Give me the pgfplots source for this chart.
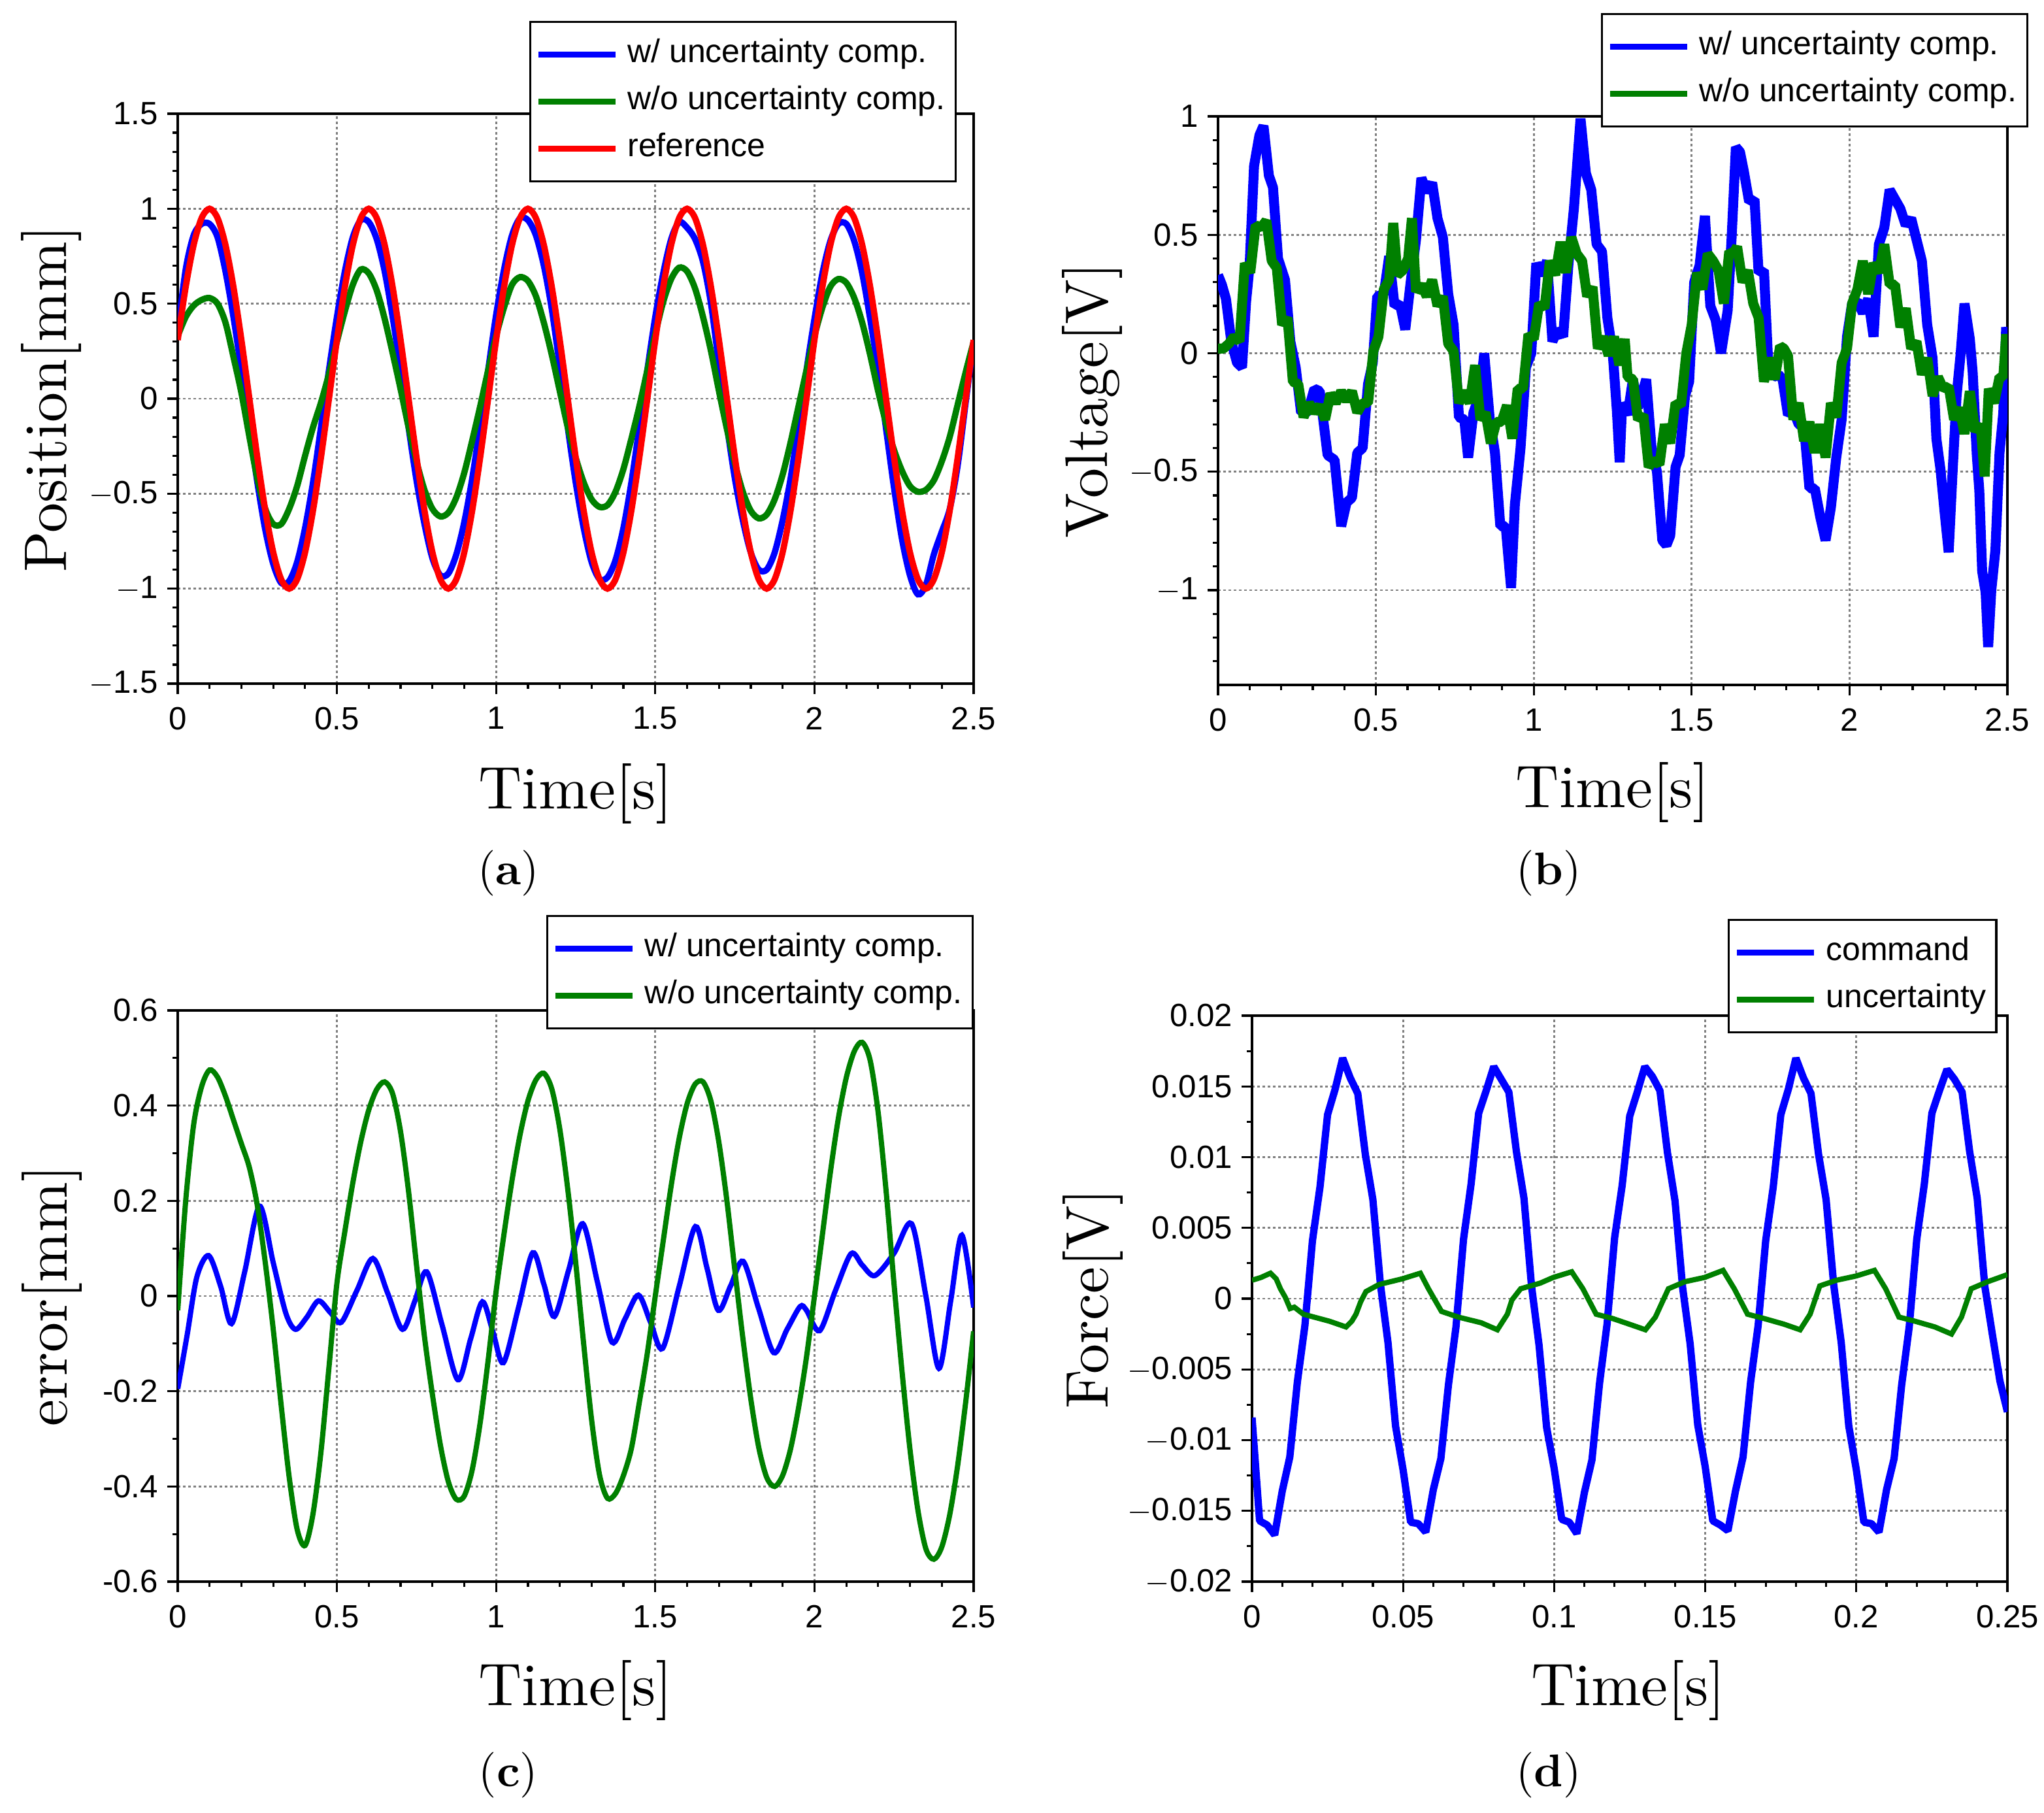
\documentclass[border=0pt]{standalone}
\usepackage{pgfplots}
\pgfplotsset{compat=1.18}
\usepackage{fontspec}
\newfontfamily\arial{Liberation Sans}
\newfontfamily\lmten{lmroman10-regular}[Extension=.otf, BoldFont=lmroman10-bold]
\definecolor{myblue}{RGB}{0,0,255}
\definecolor{mygreen}{RGB}{0,128,0}
\definecolor{myred}{RGB}{255,0,0}
\pgfplotsset{
  myaxis/.style={
    scale only axis,
    anchor=north west,
    axis line style={line width=1pt, black},
    tick align=outside,
    xtick pos=lower, ytick pos=left,
    major tick length=4pt, minor tick length=2pt,
    every tick/.style={black, line width=0.8pt},
    grid=major,
    major grid style={gray, line width=0.7pt, dash pattern=on 1pt off 1pt},
    tick label style={font=\arial\fontsize{12.3}{14}\selectfont},
    xticklabel style={yshift=-1.5pt},
    label style={font=\lmten\fontsize{23}{27}\selectfont},
    legend cell align=left,
    legend image code/.code={\draw[##1, line width=2.2pt] (0pt,0pt) -- (29.5pt,0pt);},
    legend style={anchor=north west, draw=black, line width=0.8pt, fill=white,
      inner xsep=2pt, inner ysep=3.5pt, row sep=0pt, column sep=1.5pt,
      font=\arial\fontsize{12.5}{15}\selectfont,
      nodes={inner xsep=2pt, inner ysep=3pt, text height=9pt, text depth=3pt}},
  }
}
\begin{document}
\begin{tikzpicture}
\path[use as bounding box] (0,0) rectangle (782pt,-693.5pt);
% ---------------- (a)
\begin{axis}[myaxis, at={(68pt,-43.5pt)}, width=304.5pt, height=218pt,
  xmin=0, xmax=2.5, ymin=-1.5, ymax=1.5,
  xtick={0,0.5,1,1.5,2,2.5}, xticklabels={0,0.5,1,1.5,2,2.5},
  ytick={-1.5,-1,-0.5,0,0.5,1,1.5},
  yticklabels={$-$1.5,$-$1,$-$0.5,0,0.5,1,1.5},
  minor x tick num=4, minor y tick num=4,
  xlabel={Time[s]}, ylabel={Position[mm]},
  xlabel style={at={(axis description cs:0.5,-0.193)}, anchor=center},
  ylabel style={at={(axis description cs:-0.159,0.5)}, anchor=center},
  legend style={at={(0.4417,1.1628)}}]
\addplot[myblue, line width=2.4pt, smooth] coordinates {
(0,0.35)(0.025,0.68)(0.05,0.86)(0.075,0.92)(0.1,0.92)(0.125,0.85)(0.15,0.67)(0.175,0.43)(0.2,0.15)(0.225,-0.15)
(0.25,-0.44)(0.275,-0.69)(0.3,-0.87)(0.325,-0.97)(0.35,-0.96)(0.375,-0.86)(0.4,-0.68)(0.425,-0.44)(0.45,-0.15)(0.475,0.15)
(0.5,0.43)(0.525,0.67)(0.55,0.85)(0.575,0.94)(0.6,0.93)(0.625,0.84)(0.65,0.67)(0.675,0.43)(0.7,0.15)(0.725,-0.15)
(0.75,-0.43)(0.775,-0.66)(0.8,-0.84)(0.825,-0.93)(0.85,-0.92)(0.875,-0.82)(0.9,-0.65)(0.925,-0.42)(0.95,-0.14)(0.975,0.15)
(1,0.44)(1.025,0.68)(1.05,0.86)(1.075,0.95)(1.1,0.94)(1.125,0.86)(1.15,0.7)(1.175,0.47)(1.2,0.17)(1.225,-0.15)
(1.25,-0.44)(1.275,-0.68)(1.3,-0.86)(1.325,-0.95)(1.35,-0.94)(1.375,-0.85)(1.4,-0.68)(1.425,-0.44)(1.45,-0.15)(1.475,0.15)
(1.5,0.43)(1.525,0.66)(1.55,0.84)(1.575,0.93)(1.6,0.9)(1.625,0.84)(1.65,0.72)(1.675,0.5)(1.7,0.18)(1.725,-0.14)
(1.75,-0.42)(1.775,-0.64)(1.8,-0.81)(1.825,-0.9)(1.85,-0.9)(1.875,-0.81)(1.9,-0.64)(1.925,-0.42)(1.95,-0.14)(1.975,0.15)
(2,0.42)(2.025,0.66)(2.05,0.83)(2.075,0.92)(2.1,0.92)(2.125,0.83)(2.15,0.66)(2.175,0.42)(2.2,0.15)(2.225,-0.16)
(2.25,-0.47)(2.275,-0.74)(2.3,-0.93)(2.325,-1.03)(2.35,-0.98)(2.375,-0.82)(2.4,-0.7)(2.425,-0.58)(2.45,-0.35)(2.475,-0.02)(2.5,0.3)};
\addlegendentry{w/ uncertainty comp.}
\addplot[mygreen, line width=2.4pt, smooth] coordinates {
(0,0.33)(0.025,0.43)(0.05,0.49)(0.075,0.52)(0.1,0.53)(0.125,0.5)(0.15,0.4)(0.175,0.22)(0.2,0.03)(0.225,-0.2)
(0.25,-0.42)(0.275,-0.58)(0.3,-0.66)(0.325,-0.66)(0.35,-0.58)(0.375,-0.46)(0.4,-0.3)(0.425,-0.15)(0.45,-0.02)(0.475,0.13)
(0.5,0.3)(0.525,0.46)(0.55,0.6)(0.575,0.68)(0.6,0.66)(0.625,0.57)(0.65,0.42)(0.675,0.24)(0.7,0.05)(0.725,-0.15)
(0.75,-0.33)(0.775,-0.48)(0.8,-0.58)(0.825,-0.62)(0.85,-0.6)(0.875,-0.52)(0.9,-0.39)(0.925,-0.22)(0.95,-0.04)(0.975,0.15)
(1,0.33)(1.025,0.48)(1.05,0.6)(1.075,0.64)(1.1,0.62)(1.125,0.54)(1.15,0.4)(1.175,0.23)(1.2,0.04)(1.225,-0.15)
(1.25,-0.31)(1.275,-0.44)(1.3,-0.53)(1.325,-0.57)(1.35,-0.56)(1.375,-0.49)(1.4,-0.37)(1.425,-0.21)(1.45,-0.04)(1.475,0.15)
(1.5,0.34)(1.525,0.51)(1.55,0.63)(1.575,0.69)(1.6,0.67)(1.625,0.58)(1.65,0.43)(1.675,0.25)(1.7,0.04)(1.725,-0.16)
(1.75,-0.34)(1.775,-0.49)(1.8,-0.59)(1.825,-0.63)(1.85,-0.61)(1.875,-0.53)(1.9,-0.4)(1.925,-0.23)(1.95,-0.04)(1.975,0.15)
(2,0.33)(2.025,0.48)(2.05,0.59)(2.075,0.63)(2.1,0.61)(2.125,0.53)(2.15,0.4)(2.175,0.23)(2.2,0.04)(2.225,-0.13)
(2.25,-0.27)(2.275,-0.38)(2.3,-0.46)(2.325,-0.49)(2.35,-0.48)(2.375,-0.43)(2.4,-0.33)(2.425,-0.2)(2.45,-0.03)(2.475,0.14)(2.5,0.3)};
\addlegendentry{w/o uncertainty comp.}
\addplot[myred, line width=2.4pt, smooth] coordinates {
(0,0.309)(0.025,0.588)(0.05,0.809)(0.075,0.951)(0.1,1)(0.125,0.951)(0.15,0.809)(0.175,0.588)(0.2,0.309)(0.225,0)(0.25,-0.309)(0.275,-0.588)(0.3,-0.809)(0.325,-0.951)(0.35,-1)(0.375,-0.951)(0.4,-0.809)(0.425,-0.588)(0.45,-0.309)(0.475,0)
(0.5,0.309)(0.525,0.588)(0.55,0.809)(0.575,0.951)(0.6,1)(0.625,0.951)(0.65,0.809)(0.675,0.588)(0.7,0.309)(0.725,0)(0.75,-0.309)(0.775,-0.588)(0.8,-0.809)(0.825,-0.951)(0.85,-1)(0.875,-0.951)(0.9,-0.809)(0.925,-0.588)(0.95,-0.309)(0.975,0)
(1,0.309)(1.025,0.588)(1.05,0.809)(1.075,0.951)(1.1,1)(1.125,0.951)(1.15,0.809)(1.175,0.588)(1.2,0.309)(1.225,0)(1.25,-0.309)(1.275,-0.588)(1.3,-0.809)(1.325,-0.951)(1.35,-1)(1.375,-0.951)(1.4,-0.809)(1.425,-0.588)(1.45,-0.309)(1.475,0)
(1.5,0.309)(1.525,0.588)(1.55,0.809)(1.575,0.951)(1.6,1)(1.625,0.951)(1.65,0.809)(1.675,0.588)(1.7,0.309)(1.725,0)(1.75,-0.309)(1.775,-0.588)(1.8,-0.809)(1.825,-0.951)(1.85,-1)(1.875,-0.951)(1.9,-0.809)(1.925,-0.588)(1.95,-0.309)(1.975,0)
(2,0.309)(2.025,0.588)(2.05,0.809)(2.075,0.951)(2.1,1)(2.125,0.951)(2.15,0.809)(2.175,0.588)(2.2,0.309)(2.225,0)(2.25,-0.309)(2.275,-0.588)(2.3,-0.809)(2.325,-0.951)(2.35,-1)(2.375,-0.951)(2.4,-0.809)(2.425,-0.588)(2.45,-0.309)(2.475,0)(2.5,0.309)};
\addlegendentry{reference}
\end{axis}
% ---------------- (b)
\begin{axis}[myaxis, at={(466pt,-44.5pt)}, width=302pt, height=217.5pt,
  xmin=0, xmax=2.5, ymin=-1.4, ymax=1,
  xtick={0,0.5,1,1.5,2,2.5}, xticklabels={0,0.5,1,1.5,2,2.5},
  ytick={-1,-0.5,0,0.5,1},
  yticklabels={$-$1,$-$0.5,0,0.5,1},
  minor x tick num=4,
  minor ytick={-1.3,-1.2,-1.1,-0.9,-0.8,-0.7,-0.6,-0.4,-0.3,-0.2,-0.1,0.1,0.2,0.3,0.4,0.6,0.7,0.8,0.9},
  xlabel={Time[s]}, ylabel={Voltage[V]},
  xlabel style={at={(axis description cs:0.5,-0.189)}, anchor=center},
  ylabel style={at={(axis description cs:-0.159,0.5)}, anchor=center},
  legend style={at={(0.4851,1.1816)}}]
\addplot[myblue, line width=3.8pt, line join=bevel] coordinates {
(0,0.33)(0.012,0.29)(0.025,0.23)(0.042,0.05)(0.06,-0.04)(0.076,-0.06)(0.089,0.22)(0.1,0.37)(0.114,0.79)(0.131,0.92)
(0.144,0.96)(0.161,0.75)(0.174,0.70)(0.19,0.40)(0.212,0.31)(0.229,0.05)(0.246,-0.06)(0.263,-0.25)(0.284,-0.25)(0.305,-0.15)
(0.322,-0.16)(0.347,-0.43)(0.369,-0.45)(0.39,-0.73)(0.407,-0.63)(0.424,-0.61)(0.441,-0.42)(0.458,-0.40)(0.475,-0.13)(0.49,-0.04)
(0.504,0.24)(0.525,0.25)(0.542,0.41)(0.559,0.20)(0.576,0.21)(0.593,0.10)(0.61,0.30)(0.627,0.48)(0.644,0.74)(0.661,0.68)
(0.678,0.72)(0.695,0.57)(0.712,0.49)(0.729,0.25)(0.746,0.12)(0.763,-0.27)(0.78,-0.28)(0.792,-0.44)(0.809,-0.25)(0.83,-0.17)
(0.843,0.0)(0.86,-0.27)(0.877,-0.42)(0.894,-0.73)(0.911,-0.73)(0.928,-0.99)(0.94,-0.64)(0.958,-0.40)(0.975,-0.06)(0.992,0.0)
(1.008,0.38)(1.025,0.33)(1.042,0.39)(1.059,0.05)(1.076,0.10)(1.093,0.07)(1.11,0.38)(1.127,0.61)(1.148,0.99)(1.165,0.76)
(1.182,0.69)(1.199,0.46)(1.216,0.43)(1.233,0.15)(1.25,0.0)(1.263,-0.24)(1.272,-0.46)(1.28,-0.21)(1.297,-0.26)(1.314,-0.11)(1.33,-0.23)
(1.356,-0.11)(1.373,-0.40)(1.39,-0.50)(1.407,-0.79)(1.42,-0.81)(1.432,-0.77)(1.449,-0.48)(1.462,-0.43)(1.479,-0.18)(1.492,-0.12)
(1.508,0.30)(1.525,0.37)(1.542,0.58)(1.559,0.20)(1.576,0.14)(1.593,0.0)(1.614,0.18)(1.627,0.50)(1.64,0.87)(1.653,0.85)
(1.665,0.77)(1.682,0.64)(1.699,0.65)(1.712,0.34)(1.729,0.35)(1.742,-0.03)(1.758,-0.10)(1.775,-0.09)(1.788,-0.11)(1.805,-0.26)
(1.822,-0.24)(1.839,-0.30)(1.856,-0.31)(1.873,-0.57)(1.89,-0.57)(1.907,-0.69)(1.924,-0.79)(1.941,-0.65)(1.958,-0.44)(1.975,-0.28)
(1.992,0.07)(2.008,0.21)(2.025,0.22)(2.042,0.17)(2.059,0.23)(2.076,0.07)(2.093,0.46)(2.11,0.53)(2.127,0.69)(2.144,0.65)
(2.161,0.61)(2.178,0.54)(2.195,0.57)(2.212,0.48)(2.229,0.39)(2.246,0.12)(2.263,-0.02)(2.275,-0.36)(2.288,-0.49)(2.301,-0.67)
(2.314,-0.84)(2.326,-0.51)(2.339,-0.18)(2.352,0.0)(2.364,0.21)(2.381,0.06)(2.39,-0.08)(2.403,-0.43)(2.411,-0.58)(2.42,-0.92)
(2.431,-1.01)(2.439,-1.24)(2.449,-1.00)(2.462,-0.83)(2.475,-0.42)(2.487,-0.25)(2.496,0.11)(2.5,0.06)};
\addlegendentry{w/ uncertainty comp.}
\addplot[mygreen, line width=3.8pt, line join=bevel] coordinates {
(0,0.02)(0.017,0.02)(0.034,0.04)(0.051,0.07)(0.068,0.05)(0.085,0.38)(0.102,0.34)(0.119,0.54)(0.136,0.53)(0.153,0.56)
(0.17,0.39)(0.186,0.36)(0.203,0.12)(0.22,0.15)(0.237,-0.12)(0.254,-0.13)(0.271,-0.27)(0.288,-0.21)(0.305,-0.25)(0.322,-0.22)
(0.339,-0.28)(0.356,-0.17)(0.373,-0.21)(0.39,-0.16)(0.407,-0.20)(0.424,-0.16)(0.441,-0.25)(0.458,-0.21)(0.475,-0.21)(0.492,0.01)
(0.508,0.07)(0.525,0.27)(0.542,0.31)(0.555,0.55)(0.568,0.33)(0.585,0.35)(0.602,0.40)(0.614,0.57)(0.627,0.26)(0.644,0.29)
(0.661,0.24)(0.678,0.31)(0.695,0.20)(0.712,0.24)(0.729,0.04)(0.746,0.01)(0.763,-0.21)(0.78,-0.16)(0.797,-0.21)(0.814,-0.05)
(0.831,-0.28)(0.847,-0.25)(0.864,-0.38)(0.881,-0.29)(0.898,-0.29)(0.915,-0.22)(0.932,-0.36)(0.949,-0.15)(0.966,-0.15)(0.983,0.08)
(1.0,0.06)(1.017,0.21)(1.034,0.19)(1.051,0.39)(1.068,0.33)(1.085,0.47)(1.102,0.34)(1.119,0.49)(1.136,0.42)(1.153,0.39)
(1.169,0.24)(1.186,0.28)(1.203,0.02)(1.22,0.07)(1.237,-0.01)(1.254,0.07)(1.271,-0.05)(1.288,0.06)(1.297,-0.10)(1.314,-0.11)
(1.33,-0.28)(1.347,-0.26)(1.364,-0.48)(1.381,-0.45)(1.398,-0.47)(1.415,-0.30)(1.432,-0.38)(1.449,-0.21)(1.466,-0.22)(1.483,0.0)
(1.5,0.12)(1.517,0.34)(1.534,0.27)(1.551,0.42)(1.568,0.39)(1.585,0.35)(1.602,0.21)(1.619,0.43)(1.631,0.42)(1.644,0.45)
(1.661,0.30)(1.678,0.35)(1.695,0.21)(1.712,0.15)(1.729,-0.12)(1.746,-0.02)(1.763,-0.11)(1.78,0.03)(1.792,0.02)(1.805,-0.01)
(1.822,-0.28)(1.839,-0.21)(1.856,-0.37)(1.873,-0.29)(1.89,-0.42)(1.907,-0.30)(1.924,-0.44)(1.941,-0.21)(1.958,-0.27)(1.975,-0.04)
(1.992,0.02)(2.008,0.21)(2.025,0.27)(2.042,0.39)(2.059,0.25)(2.076,0.38)(2.093,0.34)(2.11,0.46)(2.127,0.29)(2.144,0.29)
(2.161,0.11)(2.178,0.19)(2.195,0.02)(2.212,0.05)(2.229,-0.09)(2.246,-0.02)(2.263,-0.18)(2.28,-0.10)(2.297,-0.15)(2.314,-0.14)
(2.331,-0.28)(2.348,-0.23)(2.364,-0.34)(2.381,-0.16)(2.398,-0.33)(2.415,-0.30)(2.428,-0.52)(2.441,-0.15)(2.458,-0.21)(2.475,-0.10)
(2.487,-0.10)(2.496,0.08)(2.5,0.03)};
\addlegendentry{w/o uncertainty comp.}
\end{axis}
% ---------------- (c)
\begin{axis}[myaxis, at={(68pt,-386.5pt)}, width=304.5pt, height=218.5pt,
  xmin=0, xmax=2.5, ymin=-0.6, ymax=0.6,
  xtick={0,0.5,1,1.5,2,2.5}, xticklabels={0,0.5,1,1.5,2,2.5},
  ytick={-0.6,-0.4,-0.2,0,0.2,0.4,0.6},
  yticklabels={-0.6,-0.4,-0.2,0,0.2,0.4,0.6},
  minor x tick num=4, minor y tick num=1,
  xlabel={Time[s]}, ylabel={error[mm]},
  xlabel style={at={(axis description cs:0.5,-0.19)}, anchor=center},
  ylabel style={at={(axis description cs:-0.158,0.5)}, anchor=center},
  legend style={at={(0.463,1.167)}}]
\addplot[myblue, line width=2pt, smooth] coordinates {
(0,-0.195)(0.03,-0.08)(0.06,0.04)(0.097,0.085)(0.135,0.02)(0.169,-0.058)(0.21,0.05)(0.257,0.189)(0.30,0.07)(0.34,-0.037)
(0.37,-0.07)(0.405,-0.045)(0.442,-0.01)(0.48,-0.035)(0.514,-0.055)(0.563,0.012)(0.613,0.079)(0.66,0.005)(0.706,-0.07)(0.745,-0.01)
(0.782,0.051)(0.83,-0.06)(0.88,-0.176)(0.92,-0.09)(0.957,-0.012)(0.99,-0.075)(1.023,-0.14)(1.07,-0.025)(1.115,0.091)(1.15,0.025)
(1.183,-0.043)(1.228,0.055)(1.272,0.152)(1.318,0.03)(1.364,-0.097)(1.405,-0.048)(1.447,0.002)(1.485,-0.055)(1.523,-0.11)(1.575,0.02)
(1.626,0.146)(1.662,0.06)(1.698,-0.03)(1.737,0.022)(1.776,0.073)(1.824,-0.025)(1.872,-0.119)(1.914,-0.07)(1.955,-0.022)(1.975,-0.03)
(2.016,-0.073)(2.065,0.01)(2.115,0.089)(2.15,0.065)(2.19,0.043)(2.25,0.09)(2.305,0.152)(2.35,0.0)(2.391,-0.152)(2.428,-0.01)
(2.463,0.128)(2.5,-0.024)};
\addlegendentry{w/ uncertainty comp.}
\addplot[mygreen, line width=2pt, smooth] coordinates {
(0,-0.03)(0.025,0.2)(0.05,0.36)(0.075,0.44)(0.1,0.475)(0.125,0.46)(0.15,0.42)(0.175,0.37)(0.2,0.32)(0.225,0.27)
(0.25,0.19)(0.275,0.07)(0.3,-0.07)(0.325,-0.23)(0.35,-0.38)(0.375,-0.49)(0.4,-0.524)(0.425,-0.457)(0.45,-0.327)(0.475,-0.15)
(0.5,0.027)(0.525,0.136)(0.55,0.238)(0.575,0.324)(0.6,0.391)(0.625,0.434)(0.65,0.45)(0.675,0.425)(0.7,0.345)(0.725,0.22)
(0.75,0.065)(0.775,-0.085)(0.8,-0.207)(0.825,-0.313)(0.85,-0.39)(0.875,-0.427)(0.9,-0.42)(0.925,-0.365)(0.95,-0.266)(0.975,-0.135)
(1,0.01)(1.025,0.131)(1.05,0.243)(1.075,0.338)(1.1,0.41)(1.125,0.454)(1.15,0.468)(1.175,0.435)(1.2,0.351)(1.225,0.225)
(1.25,0.071)(1.275,-0.1)(1.3,-0.26)(1.325,-0.376)(1.35,-0.425)(1.375,-0.415)(1.4,-0.377)(1.425,-0.32)(1.45,-0.223)(1.475,-0.12)
(1.5,0.0)(1.525,0.116)(1.55,0.232)(1.575,0.331)(1.6,0.404)(1.625,0.445)(1.65,0.45)(1.675,0.409)(1.7,0.322)(1.725,0.2)
(1.75,0.054)(1.775,-0.088)(1.8,-0.216)(1.825,-0.318)(1.85,-0.381)(1.875,-0.4)(1.9,-0.377)(1.925,-0.321)(1.95,-0.235)(1.975,-0.128)
(2,0.0)(2.025,0.129)(2.05,0.26)(2.075,0.373)(2.1,0.459)(2.125,0.514)(2.15,0.533)(2.175,0.495)(2.2,0.386)(2.225,0.221)
(2.25,0.025)(2.275,-0.158)(2.3,-0.322)(2.325,-0.45)(2.35,-0.531)(2.375,-0.553)(2.4,-0.527)(2.425,-0.459)(2.45,-0.355)(2.475,-0.223)(2.5,-0.074)};
\addlegendentry{w/o uncertainty comp.}
\end{axis}
% ---------------- (d)
\begin{axis}[myaxis, at={(479pt,-388.5pt)}, width=289pt, height=216.5pt,
  xmin=0, xmax=0.25, ymin=-0.02, ymax=0.02,
  xtick={0,0.05,0.1,0.15,0.2,0.25}, xticklabels={0,0.05,0.1,0.15,0.2,0.25},
  ytick={-0.02,-0.015,-0.01,-0.005,0,0.005,0.01,0.015,0.02},
  yticklabels={$-$0.02,$-$0.015,$-$0.01,$-$0.005,0,0.005,0.01,0.015,0.02},
  minor x tick num=4, minor y tick num=1,
  scaled x ticks=false, scaled y ticks=false,
  xlabel={Time[s]}, ylabel={Force[V]},
  xlabel style={at={(axis description cs:0.498,-0.192)}, anchor=center},
  ylabel style={at={(axis description cs:-0.211,0.5)}, anchor=center},
  legend style={at={(0.6298,1.171)}}]
\addplot[myblue, line width=2.8pt, line join=bevel] coordinates {
(0,-0.0084)(0.0025,-0.0157)(0.005,-0.0160)(0.0075,-0.0167)(0.01,-0.0136)(0.0125,-0.0112)(0.015,-0.0059)(0.0175,-0.0019)(0.02,0.0041)(0.0225,0.0079)
(0.025,0.0130)(0.0275,0.0148)(0.03,0.0170)(0.0325,0.0156)(0.035,0.0145)(0.0375,0.0102)(0.04,0.0070)(0.0425,0.0010)(0.045,-0.0031)(0.0475,-0.0090)
(0.05,-0.0121)(0.0525,-0.0158)(0.055,-0.0159)(0.0575,-0.0165)(0.06,-0.0135)(0.0625,-0.0113)(0.065,-0.0061)(0.0675,-0.0020)(0.07,0.0042)(0.0725,0.0081)
(0.075,0.0131)(0.0775,0.0147)(0.08,0.0164)(0.0825,0.0155)(0.085,0.0146)(0.0875,0.0104)(0.09,0.0071)(0.0925,0.0009)(0.095,-0.0033)(0.0975,-0.0091)
(0.1,-0.0120)(0.1025,-0.0156)(0.105,-0.0158)(0.1075,-0.0166)(0.11,-0.0137)(0.1125,-0.0114)(0.115,-0.0060)(0.1175,-0.0018)(0.12,0.0043)(0.1225,0.0080)
(0.125,0.0129)(0.1275,0.0146)(0.13,0.0164)(0.1325,0.0157)(0.135,0.0147)(0.1375,0.0103)(0.14,0.0069)(0.1425,0.0008)(0.145,-0.0032)(0.1475,-0.0089)
(0.15,-0.0119)(0.1525,-0.0157)(0.155,-0.0160)(0.1575,-0.0164)(0.16,-0.0136)(0.1625,-0.0112)(0.165,-0.0059)(0.1675,-0.0019)(0.17,0.0041)(0.1725,0.0079)
(0.175,0.0130)(0.1775,0.0148)(0.18,0.0170)(0.1825,0.0156)(0.185,0.0145)(0.1875,0.0102)(0.19,0.0070)(0.1925,0.0010)(0.195,-0.0031)(0.1975,-0.0090)
(0.2,-0.0121)(0.2025,-0.0158)(0.205,-0.0159)(0.2075,-0.0165)(0.21,-0.0135)(0.2125,-0.0113)(0.215,-0.0061)(0.2175,-0.0020)(0.22,0.0042)(0.2225,0.0081)
(0.225,0.0131)(0.2275,0.0147)(0.23,0.0162)(0.2325,0.0155)(0.235,0.0146)(0.2375,0.0104)(0.24,0.0071)(0.2425,0.0009)(0.245,-0.0025)(0.2475,-0.0058)(0.25,-0.0080)};
\addlegendentry{command}
\addplot[mygreen, line width=2pt] coordinates {
(0,0.0013)(0.003,0.0015)(0.0061,0.0018)(0.008,0.0014)(0.0094,0.0007)(0.011,0.0001)(0.0126,-0.0007)(0.014,-0.0006)(0.017,-0.0011)(0.0257,-0.0016)
(0.0311,-0.002)(0.033,-0.0016)(0.0344,-0.0011)(0.036,-0.0002)(0.0377,0.0005)(0.042,0.001)(0.0497,0.0014)(0.0557,0.0018)(0.0584,0.0007)(0.06,0.0001)
(0.0627,-0.0009)(0.0682,-0.0013)(0.0758,-0.0017)(0.0812,-0.0022)(0.0845,-0.0011)(0.086,-0.0001)(0.0889,0.0007)(0.0954,0.0011)(0.0997,0.0015)(0.1058,0.0019)
(0.1095,0.0007)(0.1139,-0.0011)(0.1193,-0.0014)(0.1248,-0.0018)(0.1302,-0.0022)(0.1335,-0.0013)(0.1378,0.0007)(0.1433,0.0012)(0.1498,0.0015)(0.1559,0.002)
(0.1596,0.0007)(0.164,-0.0011)(0.1694,-0.0014)(0.176,-0.0018)(0.1814,-0.0022)(0.1847,-0.0011)(0.1879,0.0009)(0.1934,0.0013)(0.1999,0.0016)(0.206,0.002)
(0.2097,0.0007)(0.2141,-0.0013)(0.2195,-0.0016)(0.226,-0.002)(0.2315,-0.0025)(0.2348,-0.0013)(0.238,0.0007)(0.2435,0.0012)(0.25,0.0017)};
\addlegendentry{uncertainty}
\end{axis}
% captions
\node[font=\lmten\fontsize{17.5}{20}\selectfont] at (194.5pt,-334pt) {(\textbf{a})};
\node[font=\lmten\fontsize{17.5}{20}\selectfont] at (592.5pt,-334pt) {(\textbf{b})};
\node[font=\lmten\fontsize{17.5}{20}\selectfont] at (194.5pt,-679pt) {(\textbf{c})};
\node[font=\lmten\fontsize{17.5}{20}\selectfont] at (592.5pt,-679pt) {(\textbf{d})};
\end{tikzpicture}
\end{document}
